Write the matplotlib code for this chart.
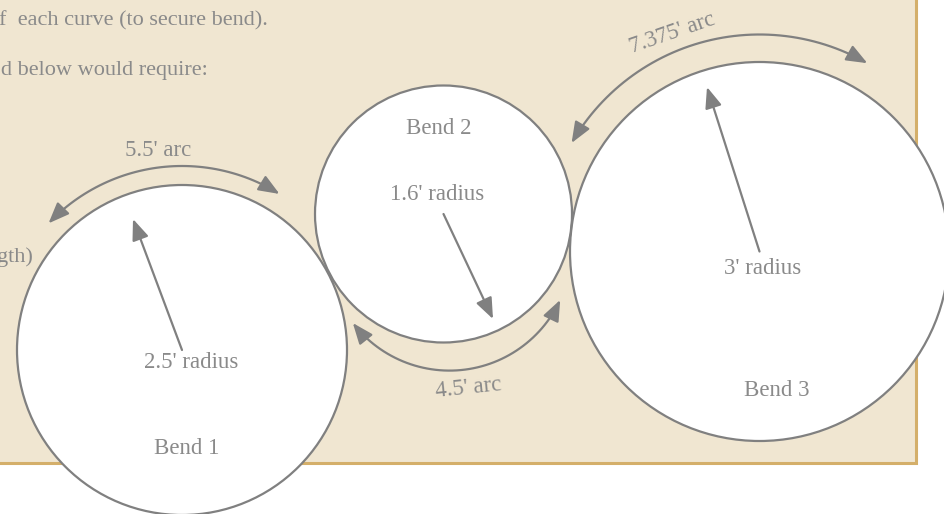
import numpy as np
import matplotlib.pyplot as plt
from matplotlib.patches import Circle, Rectangle, FancyArrowPatch
from matplotlib.path import Path

# bends: label, radius label, arc label
bend_names = ['Bend 1', 'Bend 2', 'Bend 3']
radius_labels = ["2.5' radius", "1.6' radius", "3' radius"]
arc_labels = ["5.5' arc", "4.5' arc", "7.375' arc"]

# drawing geometry (pixels, y down)
centers = [(182, 350), (443.5, 214), (759.5, 251.5)]
radii = [165, 128.5, 189.5]
radius_tips = [(133, 219), (493, 319), (707, 87)]
name_pos = [(187, 448), (439, 129), (777, 390)]
rlabel_pos = [(191, 362), (437, 194), (763, 269)]

# arc arrows: centre, radius, start/end angle (deg)
arc_geo = [((182, 350), 184, -136.5, -58),
           ((449.5, 248.6), 122, 142.4, 24.9),
           ((759.5, 251.5), 217, -150, -60.2)]
arc_text = [((158, 151), 0), ((468, 388), 6), ((672, 33), 19)]

intro_lines = ["f  each curve (to secure bend).", "d below would require:", "gth)"]
intro_pos = [(268, 21), (208, 71), (33, 257)]

line_col = '#808080'
text_col = '#8a8a8a'
plt.rcParams['font.family'] = ['Liberation Serif', 'DejaVu Serif']

fig = plt.figure(figsize=(9.45, 5.14), dpi=100)
ax = fig.add_axes([0, 0, 1, 1])
ax.set_xlim(0, 945)
ax.set_ylim(514, 0)
ax.axis('off')

ax.add_patch(Rectangle((-10, -10), 926, 473, facecolor='#F0E6D1',
                       edgecolor='#D4AF6A', lw=2.2, zorder=0))

for txt, (x, y) in zip(intro_lines, intro_pos):
    ax.text(x, y, txt, ha='right', va='center', fontsize=16, color=text_col)

for c, r in zip(centers, radii):
    ax.add_patch(Circle(c, r, facecolor='white', edgecolor='none', zorder=1))
for c, r in zip(centers, radii):
    ax.add_patch(Circle(c, r, fill=False, edgecolor=line_col, lw=1.6, zorder=2))

for c, tip in zip(centers, radius_tips):
    ax.add_patch(FancyArrowPatch(c, tip, arrowstyle='-|>,head_length=0.85,head_width=0.34',
                                 mutation_scale=15, color=line_col, lw=1.6,
                                 shrinkA=0, shrinkB=0, zorder=3))

for (c, r, a0, a1) in arc_geo:
    t = np.radians(np.linspace(a0, a1, 60))
    pts = np.column_stack([c[0] + r * np.cos(t), c[1] + r * np.sin(t)])
    ax.add_patch(FancyArrowPatch(path=Path(pts), arrowstyle='<|-|>,head_length=0.85,head_width=0.34',
                                 mutation_scale=15, color=line_col, lw=1.6, zorder=3))

for name, p in zip(bend_names, name_pos):
    ax.text(p[0], p[1], name, ha='center', va='center', fontsize=16.5, color=text_col, zorder=4)
for lab, p in zip(radius_labels, rlabel_pos):
    ax.text(p[0], p[1], lab, ha='center', va='center', fontsize=16.5, color=text_col, zorder=4)
for lab, (p, rot) in zip(arc_labels, arc_text):
    ax.text(p[0], p[1], lab, ha='center', va='center', fontsize=16.5, color=text_col,
            rotation=rot, rotation_mode='anchor', zorder=4)

fig.savefig('out.png', dpi=100, facecolor='white')
